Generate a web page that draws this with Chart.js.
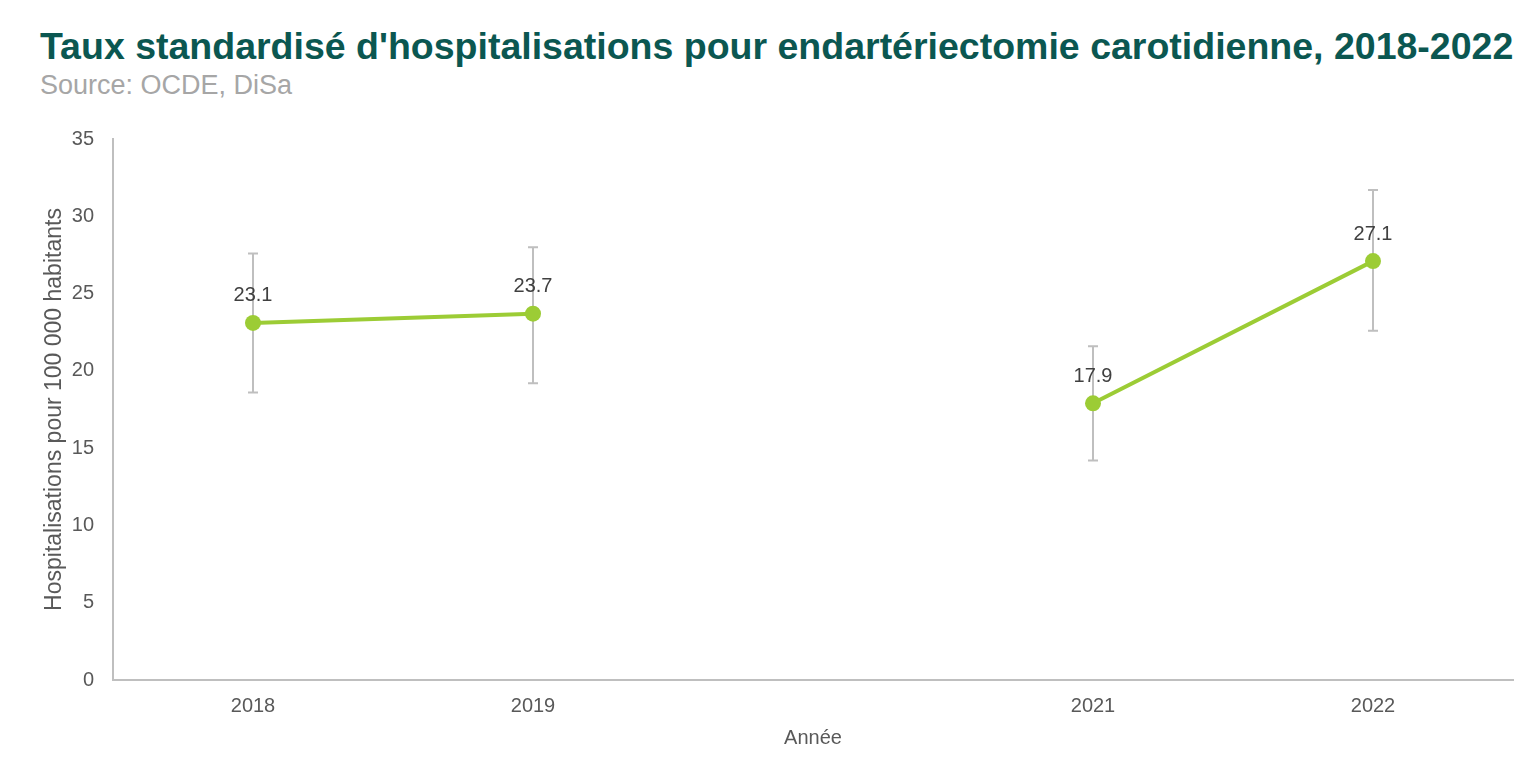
<!DOCTYPE html>
<html>
<head>
<meta charset="utf-8">
<script src="https://cdn.jsdelivr.net/npm/chart.js@4.4.1/dist/chart.umd.min.js"></script>
<style>
  html, body { margin: 0; padding: 0; background: #ffffff; }
  body { width: 1536px; height: 768px; position: relative; overflow: hidden; font-family: "Liberation Sans", Arial, sans-serif; }
  #title { position: absolute; left: 40px; top: 25px; font-size: 37.5px; line-height: 42px; font-weight: bold; color: #0b5751; white-space: nowrap; letter-spacing: 0px; }
  #subtitle { position: absolute; left: 40px; top: 70px; font-size: 27px; line-height: 30px; color: #a6a6a6; white-space: nowrap; }
  #wrap { position: absolute; left: 0; top: 0; width: 1536px; height: 768px; }
</style>
</head>
<body>
<div id="title">Taux standardisé d'hospitalisations pour endartériectomie carotidienne, 2018-2022</div>
<div id="subtitle">Source: OCDE, DiSa</div>
<div id="wrap"><canvas id="c" width="1536" height="768"></canvas></div>
<script>
const categories = ["2018", "2019", "2020", "2021", "2022"];
const rates = [23.1, 23.7, null, 17.9, 27.1];
const lowerCI = [18.6, 19.2, null, 14.2, 22.6];
const upperCI = [27.6, 28.0, null, 21.6, 31.7];
const tickLabels = { xTitle: "Année", yTitle: "Hospitalisations pour 100 000 habitants" };
const FONT = '"Liberation Sans", Arial, sans-serif';

const errorBars = {
  id: 'errorBars',
  beforeDatasetsDraw(chart) {
    const ctx = chart.ctx;
    const xs = chart.scales.x, ys = chart.scales.y;
    ctx.save();
    ctx.strokeStyle = '#bfbfbf';
    ctx.lineWidth = 2;
    for (let i = 0; i < categories.length; i++) {
      if (lowerCI[i] == null) continue;
      const x = xs.getPixelForValue(i);
      const y1 = ys.getPixelForValue(lowerCI[i]);
      const y2 = ys.getPixelForValue(upperCI[i]);
      ctx.beginPath();
      ctx.moveTo(x, y1); ctx.lineTo(x, y2);
      ctx.moveTo(x - 5, y1); ctx.lineTo(x + 5, y1);
      ctx.moveTo(x - 5, y2); ctx.lineTo(x + 5, y2);
      ctx.stroke();
    }
    ctx.restore();
  }
};

const dataLabels = {
  id: 'dataLabels',
  afterDatasetsDraw(chart) {
    const ctx = chart.ctx;
    const xs = chart.scales.x, ys = chart.scales.y;
    ctx.save();
    ctx.font = '20px ' + FONT;
    ctx.fillStyle = '#404040';
    ctx.textAlign = 'center';
    ctx.textBaseline = 'middle';
    for (let i = 0; i < categories.length; i++) {
      if (rates[i] == null) continue;
      const x = xs.getPixelForValue(i);
      const y = ys.getPixelForValue(rates[i]);
      ctx.fillText(rates[i].toFixed(1), x, y - 27);
    }
    ctx.restore();
  }
};

new Chart(document.getElementById('c'), {
  type: 'line',
  data: {
    labels: categories,
    datasets: [{
      data: rates,
      borderColor: '#9ccc35',
      backgroundColor: '#9ccc35',
      borderWidth: 4,
      pointRadius: 8,
      pointHoverRadius: 8,
      pointBackgroundColor: '#9ccc35',
      pointBorderWidth: 0,
      spanGaps: false,
      tension: 0
    }]
  },
  options: {
    responsive: false,
    animation: false,
    devicePixelRatio: 1,
    layout: { padding: { top: 139, right: 23, bottom: 0, left: 0 } },
    plugins: { legend: { display: false }, tooltip: { enabled: false }, title: { display: false } },
    scales: {
      x: {
        type: 'category',
        offset: true,
        grid: { display: false, drawTicks: false },
        border: { display: true, color: '#bfbfbf', width: 2 },
        ticks: { color: '#595959', font: { size: 20, family: FONT }, padding: 14, maxRotation: 0,
          callback: function(v, i) { return categories[i] === "2020" ? "" : categories[i]; } },
        title: { display: true, text: tickLabels.xTitle, color: '#595959', font: { size: 20, family: FONT }, padding: { top: 12, bottom: 18 } },
        afterFit(s) { s.height = 88; }
      },
      y: {
        min: 0, max: 35,
        grid: { display: false, drawTicks: false },
        border: { display: true, color: '#bfbfbf', width: 2 },
        ticks: { stepSize: 5, color: '#595959', font: { size: 20, family: FONT }, padding: 19 },
        title: { display: true, text: tickLabels.yTitle, color: '#595959', font: { size: 23, family: FONT }, padding: { top: 41, bottom: 0 } },
        afterFit(s) { s.width = 113; }
      }
    }
  },
  plugins: [errorBars, dataLabels]
});
</script>
</body>
</html>
